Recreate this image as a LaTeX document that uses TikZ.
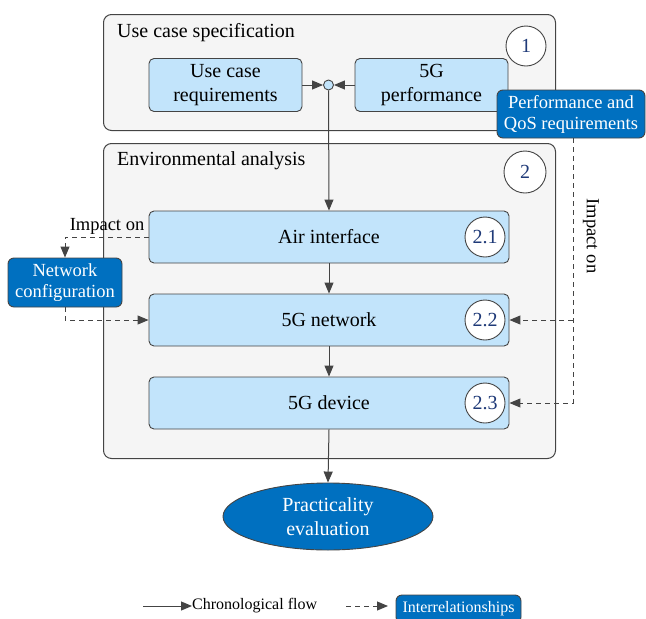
\documentclass[tikz,border=0pt]{standalone}
\usepackage{fontspec}
\setmainfont{Liberation Serif}
\usetikzlibrary{arrows.meta,shapes.geometric}
\definecolor{boxfill}{HTML}{F5F5F5}
\definecolor{lblue}{HTML}{C2E4FB}
\definecolor{dblue}{HTML}{0070C0}
\definecolor{numblue}{HTML}{1F3A78}
\definecolor{edge}{HTML}{444444}
\begin{document}
\begin{tikzpicture}[x=1pt,y=-1pt,
  outerbox/.style={draw=edge, fill=boxfill, rounded corners=8pt, line width=1pt, anchor=north west, inner sep=0pt},
  stagebox/.style={draw=edge, fill=lblue, rounded corners=5pt, line width=0.9pt, align=center, inner sep=0pt, font=\rmfamily\fontsize{20}{24}\selectfont},
  numcirc/.style={circle, draw=edge, fill=white, line width=0.9pt, minimum size=40pt, inner sep=0pt, text=numblue, font=\rmfamily\fontsize{20}{24}\selectfont},
  callout/.style={draw=edge, fill=dblue, text=white, rounded corners=6pt, line width=0.9pt, align=center, inner sep=0pt, font=\rmfamily\fontsize{18.5}{21}\selectfont},
  titletext/.style={anchor=base west, inner sep=0pt, font=\rmfamily\fontsize{20}{24}\selectfont},
  labeltext/.style={inner sep=0pt, font=\rmfamily\fontsize{18.5}{21}\selectfont},
  flow/.style={draw=edge, line width=1pt, -{Triangle[length=11pt,width=9pt]}},
  rel/.style={flow, dash pattern=on 5pt off 4pt}
]
\useasboundingbox (0,0) rectangle (646,619);
\clip (0,0) rectangle (646,619);

% outer groups
\node[outerbox, minimum width=452pt, minimum height=116pt] (spec) at (103,14) {};
\node[titletext] (spect) at (117,37) {Use case specification};
\node[numcirc] (n1) at (526,46) {1};

\node[outerbox, minimum width=452pt, minimum height=315pt] (env) at (103,143) {};
\node[titletext] (envt) at (117,165) {Environmental analysis};
\node[numcirc, minimum size=42pt] (n2) at (525,172) {2};

% stage 1
\node[stagebox, minimum width=153pt, minimum height=53pt] (ucr) at (225.5,85) {Use case\\requirements};
\node[stagebox, minimum width=153pt, minimum height=53pt] (perf) at (431.5,85) {5G\\performance};
\node[circle, draw=edge, fill=lblue, line width=0.9pt, minimum size=10pt, inner sep=0pt] (j) at (328.5,85) {};

% stage 2
\node[stagebox, minimum width=360pt, minimum height=52pt] (air) at (329,237) {Air interface};
\node[stagebox, minimum width=360pt, minimum height=52pt] (net) at (329,320) {5G network};
\node[stagebox, minimum width=360pt, minimum height=52pt] (dev) at (329,403) {5G device};
\node[numcirc] (n21) at (485,237) {2.1};
\node[numcirc] (n22) at (485,320) {2.2};
\node[numcirc] (n23) at (485,403) {2.3};

% evaluation
\node[ellipse, draw=edge, fill=dblue, text=white, line width=0.9pt, minimum width=210pt, minimum height=67pt, inner sep=0pt, align=center, font=\rmfamily\fontsize{20}{24}\selectfont] (eval) at (328,516.5) {Practicality\\evaluation};

% callouts
\node[callout, minimum width=148pt, minimum height=48pt] (qos) at (571,114) {Performance and\\QoS requirements};
\node[callout, minimum width=114pt, minimum height=49pt] (cfg) at (65,282.5) {Network\\configuration};

% chronological flow
\draw[flow] (ucr.east) -- (j.west);
\draw[flow] (perf.west) -- (j.east);
\draw[flow] (j.south) -- (air.north);
\draw[flow] (air.south) -- (net.north);
\draw[flow] (net.south) -- (dev.north);
\draw[flow] (dev.south) -- (eval.north);

% interrelationships
\draw[rel] (air.west) -| (cfg.north);
\node[labeltext] (imp1) at (107,226) {Impact on};
\draw[rel] (cfg.south) |- (net.west);
\draw[rel] ([xshift=2pt]qos.south) |- (dev.east);
\draw[rel] ([xshift=2pt]qos.south |- net.east) -- (net.east);
\node[labeltext, rotate=-90] (imp2) at (591,236) {Impact on};

% legend
\coordinate (lg1) at (143,606);
\node[anchor=west, inner sep=0pt, font=\rmfamily\fontsize{16}{19}\selectfont] (lgt) at (192,606) {Chronological flow};
\draw[flow] (lg1) -- (lgt.west);
\coordinate (lg2) at (346,606);
\coordinate (lg3) at (388,606);
\draw[rel] (lg2) -- (lg3);
\node[callout, minimum width=125pt, minimum height=28pt, font=\rmfamily\fontsize{16}{19}\selectfont] (lgr) at (458.5,609) {Interrelationships};
\end{tikzpicture}
\end{document}
